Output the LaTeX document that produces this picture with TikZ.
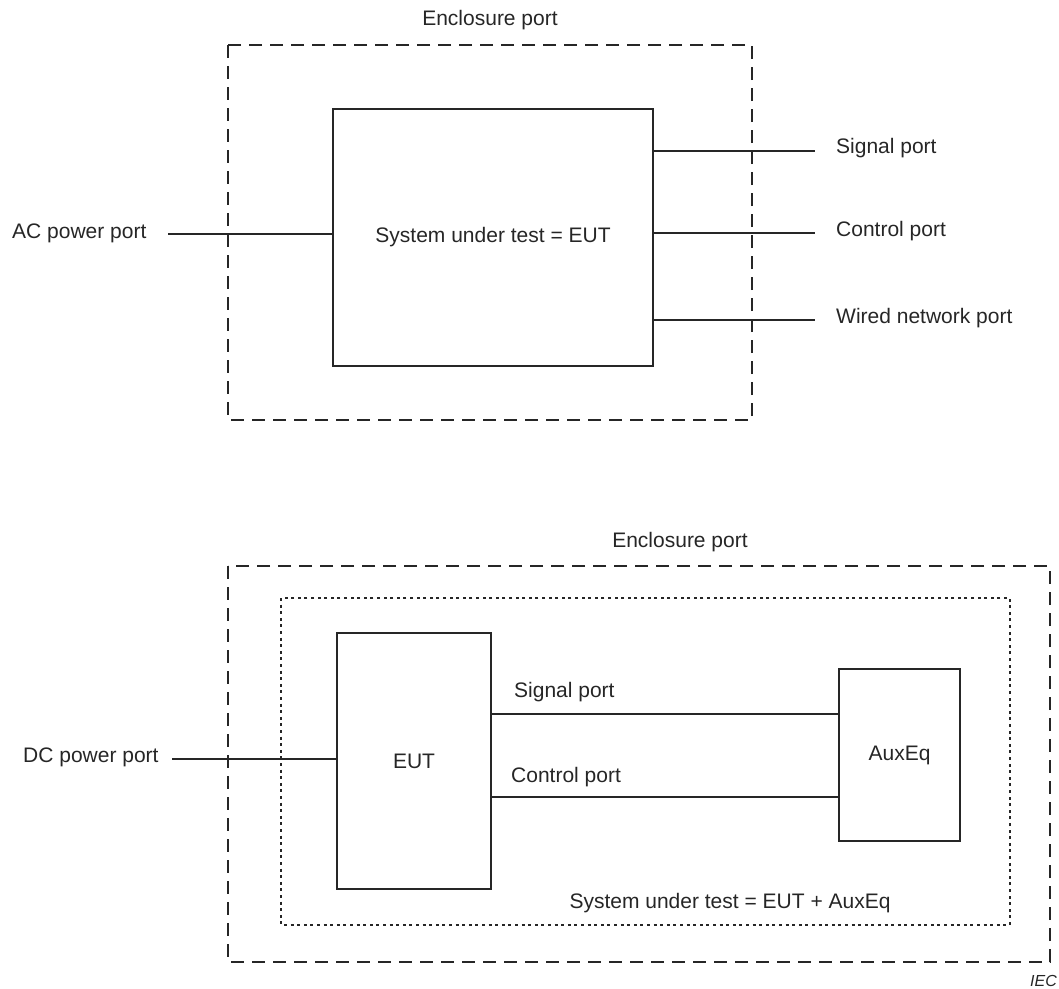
\documentclass[tikz,border=0pt]{standalone}
\usepackage{fontspec}
\setmainfont{Liberation Sans}
\begin{document}
\begin{tikzpicture}[x=1pt,y=-1pt,
  every node/.style={font=\fontsize{21}{25}\selectfont, text=black!85, inner sep=0pt},
  box/.style={draw=black!85, line width=2.1pt, fill=none, anchor=north west},
  wire/.style={draw=black!85, line width=2.1pt},
  encl/.style={draw=black!85, line width=2.8pt, dash pattern=on 13pt off 8pt},
  sut/.style={draw=black!85, line width=2.8pt, dash pattern=on 3pt off 3.6pt},
  lbl/.style={anchor=west}]
\useasboundingbox (0,0) rectangle (1059,988);

% ---- upper arrangement: single EUT ----
\node (enc1) at (490,20) {Enclosure port};
\draw[encl] (228,45) rectangle (752,420);
\node[box, minimum width=320pt, minimum height=257pt] (eut1) at (332,108) {};
\node at (eut1.center) {System under test = EUT};

\node[lbl] (ac) at (12,233) {AC power port};
\coordinate (acend) at (168,234);
\draw[wire] (acend) -- (eut1.west |- acend);

\node[lbl] (sig1) at (836,148) {Signal port};
\node[lbl] (ctl1) at (836,231) {Control port};
\node[lbl] (net1) at (836,318) {Wired network port};
\coordinate (sig1end) at (815,151);
\coordinate (ctl1end) at (815,233);
\coordinate (net1end) at (815,320);
\draw[wire] (eut1.east |- sig1end) -- (sig1end);
\draw[wire] (eut1.east |- ctl1end) -- (ctl1end);
\draw[wire] (eut1.east |- net1end) -- (net1end);

% ---- lower arrangement: EUT with auxiliary equipment ----
\node (enc2) at (680,542) {Enclosure port};
\draw[encl] (228,566) rectangle (1050,962);
\draw[sut] (281,598) rectangle (1010,925);
\node at (730,903) {System under test = EUT + AuxEq};

\node[box, minimum width=154pt, minimum height=256pt] (eut2) at (336,632) {};
\node at (eut2.center) {EUT};
\node[box, minimum width=121pt, minimum height=172pt] (aux) at (838,668) {};
\node at (aux.center) {AuxEq};

\node[lbl] (dc) at (23,757) {DC power port};
\coordinate (dcend) at (172,759);
\draw[wire] (dcend) -- (eut2.west |- dcend);

\coordinate (sig2) at (490,714);
\coordinate (ctl2) at (490,797);
\draw[wire] (eut2.east |- sig2) -- (aux.west |- sig2);
\draw[wire] (eut2.east |- ctl2) -- (aux.west |- ctl2);
\node[lbl] at (514,692) {Signal port};
\node[lbl] at (511,777) {Control port};

\node[anchor=east, font=\fontsize{16}{18}\selectfont\itshape] (iec) at (1057,981) {IEC};
\end{tikzpicture}
\end{document}
